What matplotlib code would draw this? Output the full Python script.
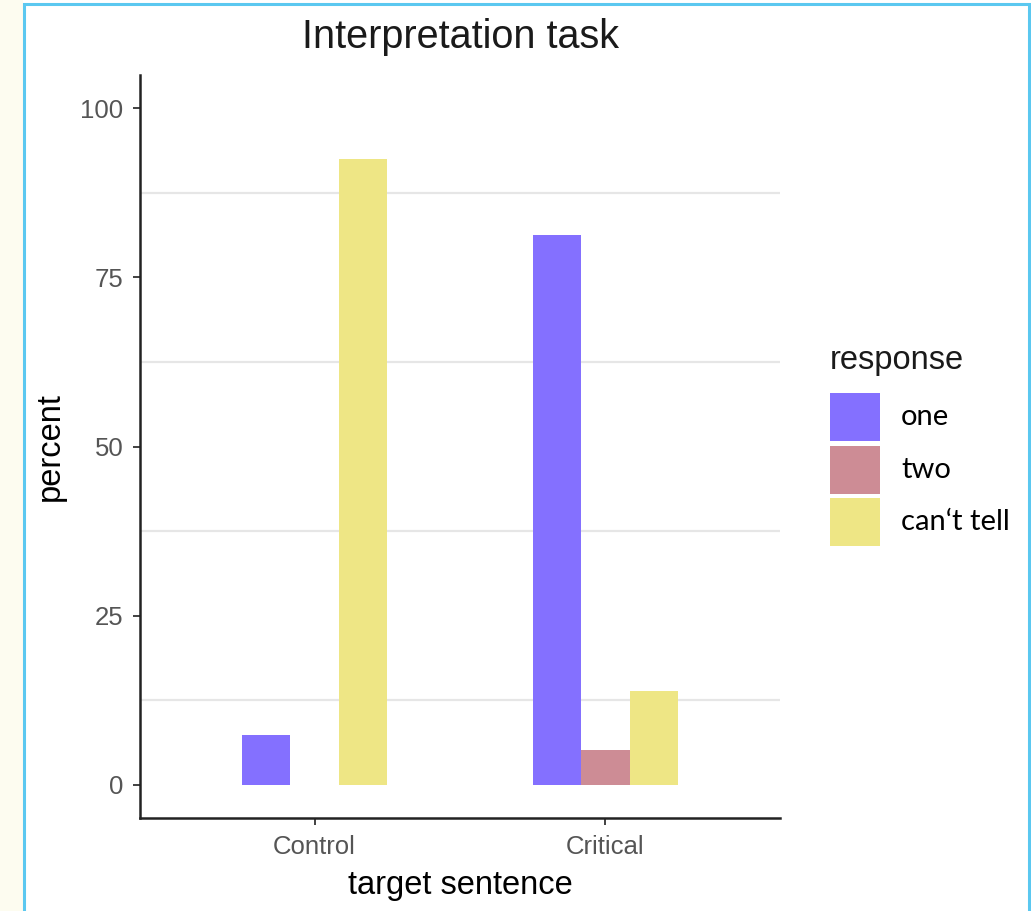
import numpy as np
import matplotlib
matplotlib.use('Agg')
import matplotlib.pyplot as plt
from matplotlib.patches import Rectangle

# data
groups = ['Control', 'Critical']
responses = ['one', 'two', 'can\u2018t tell']
pct_one = [7.4, 81.2]
pct_two = [0.0, 5.2]
pct_cant = [92.5, 13.9]
colors = ['#8470FF', '#CD8C95', '#EEE685']
yticks = [0, 25, 50, 75, 100]

plt.rcParams['font.family'] = ['Liberation Sans', 'DejaVu Sans']

fig = plt.figure(figsize=(10.31, 9.11), dpi=100)
fig.patch.set_facecolor('white')

# cream strip + blue frame like the screenshot
fig.patches.append(Rectangle((0, 0), 23 / 1031, 1, transform=fig.transFigure,
                             facecolor='#fdfcf0', edgecolor='none', zorder=0))
fig.patches.append(Rectangle((24 / 1031, -0.01), 1005 / 1031, 1 - 4 / 911 + 0.01,
                             transform=fig.transFigure, facecolor='none',
                             edgecolor='#5bc8f0', linewidth=2.2, zorder=5))

ax = fig.add_axes([140 / 1031, 1 - 818 / 911, 640 / 1031, 743 / 911])

x = np.arange(1, len(groups) + 1)
w = 1 / 6
series = [pct_one, pct_two, pct_cant]
for i, (vals, c) in enumerate(zip(series, colors)):
    ax.bar(x + (i - 1) * w, vals, width=w, color=c, edgecolor='none', zorder=3)

ax.set_xlim(0.4, 2.6)
ax.set_ylim(-4.9, 104.9)
ax.set_xticks(x)
ax.set_xticklabels(groups)
ax.set_yticks(yticks)
ax.set_yticks([12.5, 37.5, 62.5, 87.5], minor=True)
ax.grid(False)
ax.grid(True, which='minor', axis='y', color='#e6e6e6', linewidth=1.6, zorder=0)
ax.tick_params(axis='both', which='major', labelsize=18.5, colors='#333333',
               labelcolor='#555555', length=5, width=1.3)
ax.tick_params(axis='y', pad=7)
ax.tick_params(axis='x', pad=7)
ax.tick_params(which='minor', length=0)

for s in ['top', 'right']:
    ax.spines[s].set_visible(False)
for s in ['left', 'bottom']:
    ax.spines[s].set_color('#222222')
    ax.spines[s].set_linewidth(1.8)

ax.set_xlabel('target sentence', fontsize=23.5, labelpad=8)
ax.set_ylabel('percent', fontsize=23.5, labelpad=10)
fig.text(461 / 1031, 1 - 37 / 911, 'Interpretation task', fontsize=28.5,
         ha='center', va='center', color='#1a1a1a')

# legend drawn by hand
fig.text(830 / 1031, 1 - 360 / 911, 'response', fontsize=23.5, ha='left',
         va='center', color='#1a1a1a')
key_tops = [393, 446, 498]
for lab, c, top in zip(responses, colors, key_tops):
    fig.patches.append(Rectangle((830 / 1031, 1 - (top + 48) / 911), 50 / 1031, 48 / 911,
                                 transform=fig.transFigure, facecolor=c,
                                 edgecolor='none'))
    fig.text(901 / 1031, 1 - (top + 24) / 911, lab, fontsize=21,
             family=['Lato', 'DejaVu Sans'], ha='left', va='center')

fig.savefig('out.png', dpi=100)
